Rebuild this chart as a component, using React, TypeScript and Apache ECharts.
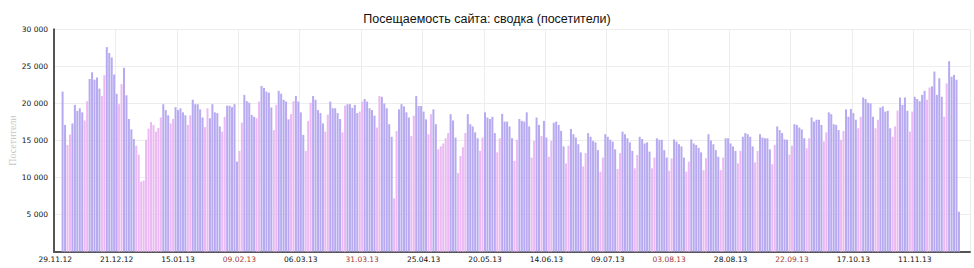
import React, { useEffect, useRef } from "react";
import * as echarts from "echarts";

// Daily visitors, 29.11.2012 – 29.11.2013
const visitsNov2012 = [21600, 17100];
const visitsDec2012 = [
  14400, 15800, 17300, 19800, 19000, 19350, 18800, 17700, 20300, 23300,
  24200, 23200, 23500, 22000, 21000, 23800, 27600, 26800, 26200, 23900,
  21300, 19900, 22600, 24800, 21100, 17900, 16500, 15200, 14300, 13100, 9450,
];
const visitsJan2013 = [
  9600, 15100, 16600, 17500, 17100, 16200, 16700, 18100, 19900, 19100,
  18400, 17300, 17900, 19500, 19100, 19350, 18800, 18400, 17100, 18400,
  20500, 19900, 19900, 19200, 18100, 16800, 19350, 18000, 19900, 18800, 18700,
];
const visitsFeb2013 = [
  16900, 16200, 18200, 19700, 19700, 19500, 19900, 12150, 13600, 17400,
  21150, 20300, 20100, 18450, 18200, 18000, 20250, 22350, 22100, 21600,
  21450, 19450, 16400, 19800, 21700, 21300, 20500, 20250,
];
const visitsMar2013 = [
  17850, 18550, 20300, 21000, 20250, 18800, 15750, 13600, 17650, 20100,
  21000, 20500, 19100, 18700, 17300, 16200, 18500, 20250, 19350, 19350,
  18700, 17900, 16100, 19700, 19900, 19900, 19400, 19800, 18700, 18900, 20250,
];
const visitsApr2013 = [
  20600, 20250, 19350, 19100, 18350, 16750, 21000, 20900, 20000, 19350,
  17200, 15500, 7200, 16300, 19200, 19900, 19600, 18800, 18100, 15600,
  18350, 21000, 19650, 19650, 18900, 17850, 15850, 18550, 19200, 17200,
];
const visitsMay2013 = [
  13800, 14200, 14600, 15300, 16000, 18550, 17700, 15400, 10600, 12900,
  14100, 16000, 18550, 17200, 16900, 16100, 15300, 13600, 15400, 18800,
  18100, 17900, 18200, 16000, 13400, 15300, 18600, 17550, 17550, 16900, 15300,
];
const visitsJun2013 = [
  12250, 15100, 17900, 17650, 17550, 18800, 16900, 12700, 14950, 18100,
  17100, 15600, 17650, 15400, 12800, 14950, 17400, 17550, 17100, 16300,
  14200, 11900, 14300, 16550, 15850, 15400, 14500, 13400, 11500, 13300,
];
const visitsJul2013 = [
  16000, 15500, 14950, 14750, 13700, 10800, 12700, 15850, 15500, 15100,
  14850, 13800, 11150, 13300, 16200, 15850, 15300, 14750, 13600, 11250,
  13050, 15500, 15200, 14600, 14750, 13500, 11250, 12700, 15300, 15100, 15100,
];
const visitsAug2013 = [
  13700, 12700, 10900, 12600, 15150, 14850, 14500, 14200, 12700, 10800,
  12150, 15150, 14600, 14400, 14000, 13400, 11000, 12600, 15850, 15000,
  14500, 13700, 12800, 11000, 12700, 15300, 15300, 14600, 14200, 13600, 11900,
];
const visitsSep2013 = [
  13600, 15500, 16000, 15850, 15500, 14200, 12050, 13600, 15850, 15400,
  15300, 15300, 13800, 11800, 14400, 16900, 16400, 16000, 15150, 15100,
  13100, 14300, 17200, 17100, 16750, 16500, 15300, 13950, 15300, 18100,
];
const visitsOct2013 = [
  17550, 17800, 17800, 17100, 14850, 16100, 18800, 18550, 17200, 17100,
  16400, 15100, 16300, 19200, 18200, 19250, 18700, 17800, 16650, 18200,
  20800, 20600, 20100, 20000, 18200, 16650, 17800, 19450, 19600, 18900, 19000,
];
const visitsNov2013 = [
  16650, 15500, 16900, 19050, 20800, 19800, 20800, 19000, 16200, 18900,
  20900, 20600, 20300, 21150, 21700, 20500, 22150, 22300, 24300, 21150,
  23400, 20900, 18200, 22700, 25700, 23600, 23850, 23200, 5400,
];

const holidays = [
  "31.12.12", "01.01.13", "02.01.13", "03.01.13", "04.01.13", "07.01.13",
  "08.01.13", "08.03.13", "01.05.13", "02.05.13", "03.05.13", "09.05.13",
  "10.05.13", "12.06.13", "04.11.13",
];

const yTicks = [0, 5000, 10000, 15000, 20000, 25000, 30000];

const visits = [
  visitsNov2012, visitsDec2012, visitsJan2013, visitsFeb2013, visitsMar2013,
  visitsApr2013, visitsMay2013, visitsJun2013, visitsJul2013, visitsAug2013,
  visitsSep2013, visitsOct2013, visitsNov2013,
].flat();

const DAY = 86400000;
const AXIS_ORIGIN = Date.UTC(2012, 10, 26);
const LEAD = 3; // first data day 29.11.12
const TAIL = 4;

const pad = (n: number) => (n < 10 ? "0" + n : "" + n);
const fmtDate = (t: number) => {
  const d = new Date(t);
  return pad(d.getUTCDate()) + "." + pad(d.getUTCMonth() + 1) + "." + pad(d.getUTCFullYear() % 100);
};
const categories = Array.from({ length: LEAD + visits.length + TAIL }, (_, i) =>
  fmtDate(AXIS_ORIGIN + i * DAY)
);
const firstLabel = categories[LEAD];

const isOff = (i: number) => {
  const w = new Date(AXIS_ORIGIN + i * DAY).getUTCDay();
  return w === 0 || w === 6 || holidays.includes(categories[i]);
};

const PURPLE = "#b7aaf1";
const PINK = "#ebb9f3";

export default function App() {
  const ref = useRef<HTMLDivElement>(null);
  useEffect(() => {
    if (!ref.current) return;
    const chart = echarts.init(ref.current, undefined, { renderer: "svg" });
    const seriesData = categories.map((_, i) => {
      const k = i - LEAD;
      if (k < 0 || k >= visits.length) return null;
      return { value: visits[k], itemStyle: { color: isOff(i) ? PINK : PURPLE } };
    });
    chart.setOption({
      animation: false,
      backgroundColor: "#ffffff",
      title: {
        text: "Посещаемость сайта: сводка (посетители)",
        left: "center",
        top: 7,
        textStyle: {
          fontFamily: "Liberation Sans",
          fontSize: 12.5,
          fontWeight: "normal",
          color: "#111",
        },
      },
      grid: {
        left: 54,
        right: 4,
        top: 29.3,
        bottom: 16.3,
        containLabel: false,
        outerBoundsMode: "none",
      },
      xAxis: {
        type: "category",
        data: categories,
        boundaryGap: true,
        axisLine: { lineStyle: { color: "#555", width: 2 } },
        axisTick: { show: false },
        axisLabel: {
          interval: 24,
          margin: 4,
          formatter: (v: string, i: number) => {
            const txt = i === 0 ? firstLabel : v;
            return isOff(i) && i !== 0 ? "{r|" + txt + "}" : "{n|" + txt + "}";
          },
          rich: {
            n: { fontFamily: "DejaVu Sans", fontSize: 7.5, color: "#111" },
            r: { fontFamily: "DejaVu Sans", fontSize: 7.5, color: "#a23a3a" },
          },
        },
        splitLine: { show: true, interval: 24, lineStyle: { color: "#ececec", width: 1 } },
      },
      yAxis: {
        type: "value",
        min: yTicks[0],
        max: yTicks[yTicks.length - 1],
        interval: yTicks[1] - yTicks[0],
        name: "Посетители",
        nameLocation: "middle",
        nameGap: 37,
        nameMoveOverlap: false,
        nameTextStyle: { fontFamily: "Liberation Serif", fontSize: 10, color: "#c6c6c6" },
        axisLine: { show: true, lineStyle: { color: "#555", width: 2 } },
        axisTick: { show: false },
        axisLabel: {
          margin: 6,
          fontFamily: "DejaVu Sans",
          fontSize: 7.5,
          color: "#111",
          formatter: (v: number) =>
            v === 0 ? "" : String(v).replace(/\B(?=(\d{3})+(?!\d))/g, " "),
        },
        splitLine: { lineStyle: { color: "#ededed", width: 1 } },
      },
      series: [
        {
          type: "bar",
          data: seriesData,
          barCategoryGap: "18%",
        },
      ],
    });
    return () => chart.dispose();
  }, []);
  return (
    <div
      ref={ref}
      style={{ position: "fixed", left: 0, top: 0, width: 974, height: 268 }}
    />
  );
}
